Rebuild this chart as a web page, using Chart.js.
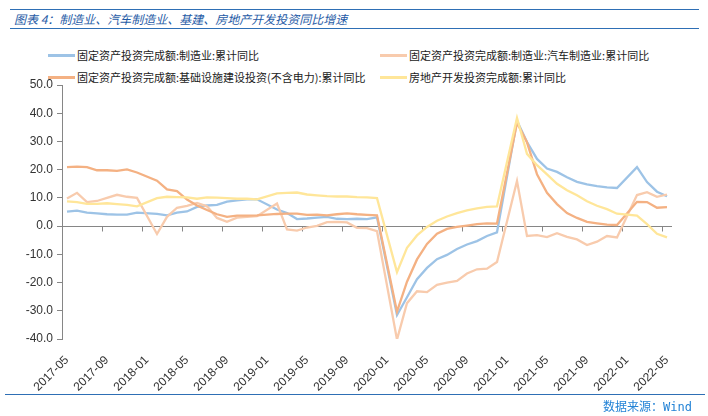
<!DOCTYPE html>
<html>
<head>
<meta charset="utf-8">
<script src="https://cdn.jsdelivr.net/npm/chart.js@4.4.1/dist/chart.umd.min.js"></script>
<style>
  body { margin: 0; background: #fff; }
  #wrap { position: relative; width: 708px; height: 416px; overflow: hidden; font-family: "Noto Sans CJK SC", sans-serif; }
  .rule { position: absolute; height: 0; border-top: 1.5px solid #2e6fb5; }
  #title { position: absolute; left: 14px; top: 10px; font-size: 12px; line-height: 17px; font-style: italic; color: #1f5ba6; white-space: nowrap; }
  #source { position: absolute; right: 16px; top: 398px; font-size: 12px; line-height: 16px; color: #2383d6; white-space: nowrap; }
  #source span { font-family: "DejaVu Sans Mono", "Liberation Mono", monospace; }
  .leg { position: absolute; font-size: 11px; line-height: 14px; color: #222; white-space: nowrap; }
  .leg i { position: absolute; top: 6px; height: 2.5px; width: 27px; }
  canvas { position: absolute; left: 0; top: 0; }
</style>
</head>
<body>
<div id="wrap">
  <div class="rule" style="left:10px; width:689px; top:9px;"></div>
  <div id="title">图表 4：制造业、汽车制造业、基建、房地产开发投资同比增速</div>
  <div class="rule" style="left:10px; width:689px; top:28px;"></div>
  <div id="legend"></div>
  <canvas id="myChart" width="708" height="416"></canvas>
  <div class="rule" style="left:5px; width:700px; top:394px;"></div>
  <div id="source">数据来源：<span>Wind</span></div>
</div>
<script>
// monthly categories, 2017-05 .. 2022-05 (January values are blank in the source)
const months = [
  '2017-05','2017-06','2017-07','2017-08','2017-09','2017-10','2017-11','2017-12',
  '2018-01','2018-02','2018-03','2018-04','2018-05','2018-06','2018-07','2018-08','2018-09','2018-10','2018-11','2018-12',
  '2019-01','2019-02','2019-03','2019-04','2019-05','2019-06','2019-07','2019-08','2019-09','2019-10','2019-11','2019-12',
  '2020-01','2020-02','2020-03','2020-04','2020-05','2020-06','2020-07','2020-08','2020-09','2020-10','2020-11','2020-12',
  '2021-01','2021-02','2021-03','2021-04','2021-05','2021-06','2021-07','2021-08','2021-09','2021-10','2021-11','2021-12',
  '2022-01','2022-02','2022-03','2022-04','2022-05'
];

const manufacturing = [
  5.1, 5.5, 4.8, 4.5, 4.2, 4.1, 4.1, 4.8,
  null, 4.3, 3.8, 4.8, 5.2, 6.8, 7.3, 7.5, 8.7, 9.1, 9.5, 9.5,
  null, 5.9, 4.6, 2.5, 2.7, 3.0, 3.3, 2.6, 2.5, 2.6, 2.5, 3.1,
  null, -31.5, -25.2, -18.8, -14.8, -11.7, -10.2, -8.1, -6.5, -5.3, -3.5, -2.2,
  null, 37.3, 29.8, 23.8, 20.4, 19.2, 17.3, 15.7, 14.8, 14.2, 13.7, 13.5,
  null, 20.9, 15.6, 12.2, 10.6
];
const autoMaking = [
  9.8, 11.8, 8.5, 8.9, 10.0, 11.1, 10.4, 10.0,
  null, -2.8, 3.3, 6.5, 7.2, 8.2, 7.0, 2.9, 1.5, 3.0, 3.3, 3.5,
  null, 8.0, -1.2, -1.6, -0.5, 0.1, 1.4, 1.5, 1.3, -0.6, -0.7, -1.8,
  null, -40.2, -27.3, -23.1, -23.4, -20.8, -20.0, -19.4, -16.8, -15.3, -15.1, -12.7,
  null, 16.0, -3.5, -3.2, -3.9, -2.5, -3.8, -4.7, -6.7, -5.5, -3.5, -4.0,
  null, 11.0, 12.0, 10.4, 11.2
];
const infrastructure = [
  20.9, 21.1, 20.9, 19.8, 19.8, 19.6, 20.1, 19.0,
  null, 16.1, 13.0, 12.4, 9.4, 7.3, 5.7, 4.2, 3.3, 3.7, 3.7, 3.8,
  null, 4.3, 4.4, 4.4, 4.0, 4.1, 3.8, 4.2, 4.5, 4.2, 4.0, 3.8,
  null, -30.3, -19.7, -11.8, -6.3, -2.7, -1.0, -0.3, 0.2, 0.7, 1.0, 0.9,
  null, 36.6, 29.7, 18.4, 11.8, 7.8, 4.6, 2.9, 1.5, 1.0, 0.5, 0.4,
  null, 8.6, 8.5, 6.5, 6.7
];
const realEstate = [
  8.8, 8.5, 7.9, 7.9, 8.1, 7.8, 7.5, 7.0,
  null, 9.9, 10.4, 10.3, 10.2, 9.7, 10.2, 10.1, 9.9, 9.7, 9.7, 9.5,
  null, 11.6, 11.8, 11.9, 11.2, 10.9, 10.6, 10.5, 10.5, 10.3, 10.2, 9.9,
  null, -16.3, -7.7, -3.3, -0.3, 1.9, 3.4, 4.6, 5.6, 6.3, 6.8, 7.0,
  null, 38.3, 25.6, 21.6, 18.3, 15.0, 12.7, 10.9, 8.8, 7.2, 6.0, 4.4,
  null, 3.7, 0.7, -2.7, -4.0
];

const seriesNames = [
  '固定资产投资完成额:制造业:累计同比',
  '固定资产投资完成额:制造业:汽车制造业:累计同比',
  '固定资产投资完成额:基础设施建设投资(不含电力):累计同比',
  '房地产开发投资完成额:累计同比'
];
const seriesColors = ['#9dc3e6', '#f8cbad', '#f4b183', '#ffe699'];
const seriesData = [manufacturing, autoMaking, infrastructure, realEstate];

// legend, two columns like the original
const legendPos = [[48, 48], [380, 48], [48, 70], [380, 70]];
const legend = document.getElementById('legend');
seriesNames.forEach((name, i) => {
    const d = document.createElement('div');
    d.className = 'leg';
    d.style.left = legendPos[i][0] + 'px';
    d.style.top = legendPos[i][1] + 'px';
    d.style.paddingLeft = '29px';
    d.innerHTML = `<i style="left:0;background:${seriesColors[i]}"></i>${name}`;
    legend.appendChild(d);
});

// horizontal axis line at zero with tick marks between every 4th category
const zeroAxis = {
    id: 'zeroAxis',
    beforeDatasetsDraw(chart) {
        const { ctx, chartArea, scales: { x, y } } = chart;
        const y0 = Math.round(y.getPixelForValue(0)) + 0.5;
        const half = (x.getPixelForValue(1) - x.getPixelForValue(0)) / 2;
        ctx.save();
        ctx.strokeStyle = '#868686';
        ctx.lineWidth = 1;
        ctx.beginPath();
        ctx.moveTo(chartArea.left, y0);
        ctx.lineTo(chartArea.right, y0);
        for (let i = 0; i < months.length; i += 4) {
            const px = Math.round(x.getPixelForValue(i) - half) + 0.5;
            ctx.moveTo(px, y0);
            ctx.lineTo(px, y0 + 5);
        }
        ctx.stroke();
        ctx.restore();
    }
};

Chart.defaults.font.family = "'Liberation Sans', Arial, 'Noto Sans CJK SC', sans-serif";
Chart.defaults.color = '#333';

const ctx = document.getElementById('myChart').getContext('2d');
new Chart(ctx, {
    type: 'line',
    data: {
        labels: months,
        datasets: seriesData.map((data, i) => ({
            label: seriesNames[i],
            data: data,
            borderColor: seriesColors[i],
            backgroundColor: seriesColors[i],
            borderWidth: 2.3,
            pointRadius: 0,
            tension: 0,
            spanGaps: true,
            order: 4 - i
        }))
    },
    options: {
        responsive: false,
        animation: false,
        layout: { padding: { top: 85, right: 36, left: 0, bottom: 0 } },
        plugins: { legend: { display: false }, tooltip: { enabled: false } },
        scales: {
            x: {
                offset: true,
                grid: { display: false },
                border: { display: false },
                ticks: {
                    autoSkip: false,
                    minRotation: 45,
                    maxRotation: 45,
                    padding: 6,
                    font: { size: 12 },
                    callback: function (v, i) { return i % 4 === 0 ? this.getLabelForValue(v) : ''; }
                },
                afterFit: s => { s.height = 77; }
            },
            y: {
                min: -40,
                max: 50,
                ticks: { stepSize: 10, padding: 4, font: { size: 12 }, callback: v => v.toFixed(1) },
                grid: { drawOnChartArea: false, tickLength: 5, color: '#868686' },
                border: { color: '#868686' },
                afterFit: s => { s.width = 62; }
            }
        }
    },
    plugins: [zeroAxis]
});
</script>
</body>
</html>
